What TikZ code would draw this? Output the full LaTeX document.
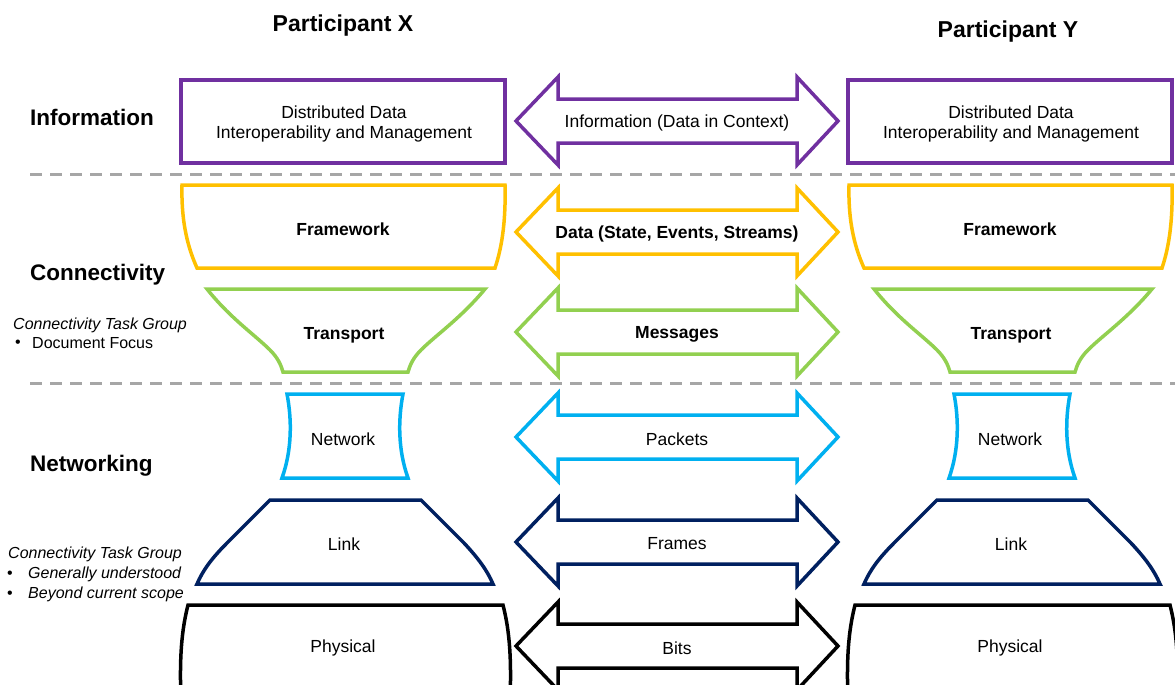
\documentclass[tikz,border=0pt]{standalone}
\usepackage{fontspec}
\setmainfont{Liberation Sans}
\definecolor{cpurple}{HTML}{7030A0}
\definecolor{cyellow}{HTML}{FFC000}
\definecolor{cgreen}{HTML}{92D050}
\definecolor{ccyan}{HTML}{00B0F0}
\definecolor{cnavy}{HTML}{002060}
\definecolor{cgray}{HTML}{A6A6A6}
\begin{document}
\begin{tikzpicture}[x=1pt,y=-1pt,
  layerbox/.style={line width=3.5pt, line join=miter, fill=white},
  arrowbox/.style={line width=3.5pt, line join=miter, fill=white},
  lbl/.style={font=\fontsize{17.5}{20}\selectfont, align=center, inner sep=0pt, yshift=-2pt},
  blbl/.style={lbl, font=\fontsize{17.5}{20}\selectfont\bfseries},
  sidelbl/.style={font=\fontsize{22.5}{26}\selectfont\bfseries, anchor=west, inner sep=0pt},
  headlbl/.style={font=\fontsize{23}{26}\selectfont\bfseries, inner sep=0pt, yshift=-2pt},
  note/.style={font=\fontsize{16}{19}\selectfont, anchor=west, inner sep=0pt, yshift=-1.5pt},
  inote/.style={note, font=\fontsize{16}{19}\selectfont\itshape},
  sepline/.style={cgray, line width=3pt, dash pattern=on 12pt off 8pt}]
\useasboundingbox (0,0) rectangle (1175,685);
\clip (0,0) rectangle (1175,685);

% separators
\coordinate (s1a) at (30,174);
\coordinate (s1b) at (1175,174);
\coordinate (s2a) at (30,383);
\coordinate (s2b) at (1175,383);
\draw[sepline] (s1a) -- (s1b);
\draw[sepline] (s2a) -- (s2b);

% headings
\node[headlbl] (px) at (343,24) {Participant X};
\node[headlbl] (py) at (1008,30) {Participant Y};

% side labels
\node[sidelbl] (linfo) at (30,117) {Information};
\node[sidelbl] (lconn) at (30,275) {Connectivity};
\node[sidelbl] (lnet) at (30,466) {Networking};

\node[inote] (n1) at (13,324) {Connectivity Task Group};
\node[note] (n1b) at (15,342) {•};
\node[note] (n1t) at (32,342) {Document Focus};
\node[inote] (n2) at (8,553) {Connectivity Task Group};
\node[note] (n2b) at (7,573) {•};
\node[inote] (n2t) at (28,573) {Generally understood};
\node[note] (n3b) at (7,593) {•};
\node[inote] (n3t) at (28,593) {Beyond current scope};

% participant stacks
\foreach \dx/\p in {0/X,667/Y}{
\begin{scope}[xshift=\dx pt]
  \draw[layerbox, draw=cpurple] (181,80) rectangle (505,163);
  \node[lbl] (info\p) at (344,122) {Distributed Data\\Interoperability and Management};
  \draw[layerbox, draw=cyellow] (182,185) -- (505,185)
     .. controls (506,225) and (501,250) .. (495,268) -- (197,268)
     .. controls (189,250) and (181,225) .. cycle;
  \node[blbl] (frame\p) at (343,227) {Framework};
  \draw[layerbox, draw=cgreen] (207,289) -- (485,289)
     .. controls (461,318) and (436,335) .. (421,350)
     .. controls (413,358) and (410,365) .. (408,372) -- (283,372)
     .. controls (281,365) and (278,358) .. (270,350)
     .. controls (255,335) and (230,318) .. cycle;
  \node[blbl] (trans\p) at (344,333) {Transport};
  \draw[layerbox, draw=ccyan] (287,394) -- (403,394)
     .. controls (398,420) and (398,450) .. (408,478) -- (282,478)
     .. controls (292,450) and (292,420) .. cycle;
  \node[lbl] (net\p) at (343,437) {Network};
  \draw[layerbox, draw=cnavy] (270,500) -- (421,500) -- (464,543)
     .. controls (478,558) and (487,570) .. (493,584) -- (197,584)
     .. controls (203,570) and (212,558) .. (227,543) -- cycle;
  \node[lbl] (link\p) at (344,542) {Link};
  \draw[layerbox, draw=black] (181,700) .. controls (179,650) and (183,625) .. (188,605)
     -- (503,605) .. controls (508,625) and (512,650) .. (510,700);
  \node[lbl] (phys\p) at (343,646) {Physical};
\end{scope}
}

% double arrows
\foreach \yy/\col/\txt [count=\i] in {
  121/cpurple/{Information (Data in Context)},
  232/cyellow/{\bfseries Data (State, Events, Streams)},
  332/cgreen/{\bfseries Messages},
  437/ccyan/{Packets},
  542/cnavy/{Frames},
  646/black/{Bits}}{
\begin{scope}[shift={(0,\yy)}]
  \draw[arrowbox, draw=\col] (516,0) -- (558,-44) -- (558,-22) -- (797,-22)
     -- (797,-44) -- (838,0) -- (797,44) -- (797,22) -- (558,22) -- (558,44) -- cycle;
  \node[lbl] (arr\i) at (677,0) {\txt};
\end{scope}
}
\end{tikzpicture}
\end{document}
